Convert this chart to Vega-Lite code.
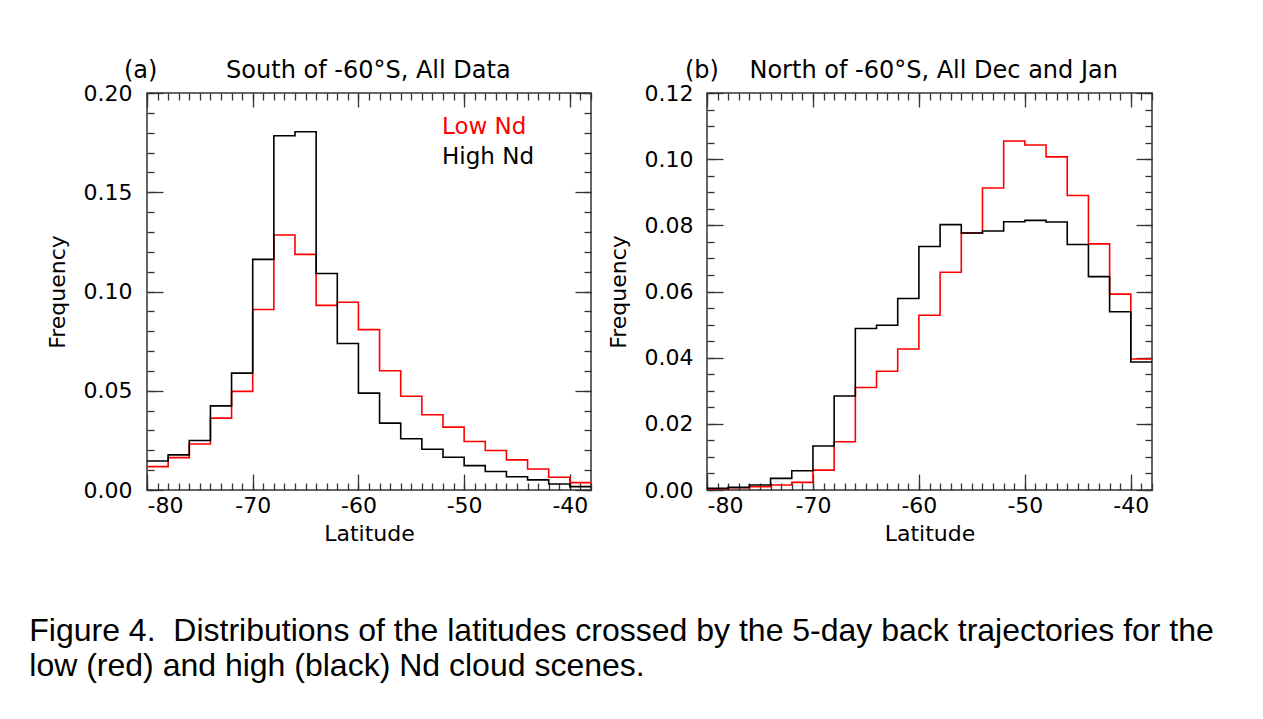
{
  "$schema": "https://vega.github.io/schema/vega-lite/v6.json",
  "background": "white",
  "padding": {"left": 29, "top": 58, "right": 5, "bottom": 5},
  "config": {
    "view": {"stroke": "#333333", "strokeWidth": 1.5},
    "axis": {"grid": false, "domain": false, "labelFont": "DejaVu Sans", "labelFontSize": 22, "labelColor": "#000000", "titleFont": "DejaVu Sans", "titleFontSize": 22, "titleFontWeight": "normal", "titleColor": "#000000", "tickColor": "#333333", "tickWidth": 1.3}
  },
  "title": {
    "text": ["Figure 4.\u00a0 Distributions of the latitudes crossed by the 5-day back trajectories for the", "low (red) and high (black) Nd cloud scenes."],
    "orient": "bottom", "anchor": "start", "dx": -16, "offset": 96, "baseline": "alphabetic",
    "font": "Liberation Sans", "fontSize": 32, "fontWeight": "normal", "color": "#000000", "lineHeight": 35
  },
  "spacing": 11,
  "resolve": {"scale": {"color": "independent"}, "legend": {"color": "independent"}},
  "datasets": {
    "a": [
      {"series": "Low Nd", "lat": -80, "freq": 0.0118}, {"series": "Low Nd", "lat": -78, "freq": 0.0163}, {"series": "Low Nd", "lat": -76, "freq": 0.0232}, {"series": "Low Nd", "lat": -74, "freq": 0.0362}, {"series": "Low Nd", "lat": -72, "freq": 0.0497}, {"series": "Low Nd", "lat": -70, "freq": 0.0909}, {"series": "Low Nd", "lat": -68, "freq": 0.1285}, {"series": "Low Nd", "lat": -66, "freq": 0.1187}, {"series": "Low Nd", "lat": -64, "freq": 0.0930}, {"series": "Low Nd", "lat": -62, "freq": 0.0946}, {"series": "Low Nd", "lat": -60, "freq": 0.0808}, {"series": "Low Nd", "lat": -58, "freq": 0.0601}, {"series": "Low Nd", "lat": -56, "freq": 0.0472}, {"series": "Low Nd", "lat": -54, "freq": 0.0379}, {"series": "Low Nd", "lat": -52, "freq": 0.0317}, {"series": "Low Nd", "lat": -50, "freq": 0.0244}, {"series": "Low Nd", "lat": -48, "freq": 0.0199}, {"series": "Low Nd", "lat": -46, "freq": 0.0152}, {"series": "Low Nd", "lat": -44, "freq": 0.0106}, {"series": "Low Nd", "lat": -42, "freq": 0.0064}, {"series": "Low Nd", "lat": -40, "freq": 0.0037}, {"series": "Low Nd", "lat": -38, "freq": 0.0037},
      {"series": "High Nd", "lat": -80, "freq": 0.0146}, {"series": "High Nd", "lat": -78, "freq": 0.0177}, {"series": "High Nd", "lat": -76, "freq": 0.0249}, {"series": "High Nd", "lat": -74, "freq": 0.0424}, {"series": "High Nd", "lat": -72, "freq": 0.0589}, {"series": "High Nd", "lat": -70, "freq": 0.1162}, {"series": "High Nd", "lat": -68, "freq": 0.1785}, {"series": "High Nd", "lat": -66, "freq": 0.1805}, {"series": "High Nd", "lat": -64, "freq": 0.1091}, {"series": "High Nd", "lat": -62, "freq": 0.0738}, {"series": "High Nd", "lat": -60, "freq": 0.0488}, {"series": "High Nd", "lat": -58, "freq": 0.0337}, {"series": "High Nd", "lat": -56, "freq": 0.0258}, {"series": "High Nd", "lat": -54, "freq": 0.0205}, {"series": "High Nd", "lat": -52, "freq": 0.0165}, {"series": "High Nd", "lat": -50, "freq": 0.0123}, {"series": "High Nd", "lat": -48, "freq": 0.0093}, {"series": "High Nd", "lat": -46, "freq": 0.0067}, {"series": "High Nd", "lat": -44, "freq": 0.0051}, {"series": "High Nd", "lat": -42, "freq": 0.0030}, {"series": "High Nd", "lat": -40, "freq": 0.0017}, {"series": "High Nd", "lat": -38, "freq": 0.0017}
    ],
    "b": [
      {"series": "Low Nd", "lat": -80, "freq": 0.0003}, {"series": "Low Nd", "lat": -78, "freq": 0.0007}, {"series": "Low Nd", "lat": -76, "freq": 0.0010}, {"series": "Low Nd", "lat": -74, "freq": 0.0015}, {"series": "Low Nd", "lat": -72, "freq": 0.0023}, {"series": "Low Nd", "lat": -70, "freq": 0.0060}, {"series": "Low Nd", "lat": -68, "freq": 0.0146}, {"series": "Low Nd", "lat": -66, "freq": 0.0310}, {"series": "Low Nd", "lat": -64, "freq": 0.0359}, {"series": "Low Nd", "lat": -62, "freq": 0.0426}, {"series": "Low Nd", "lat": -60, "freq": 0.0528}, {"series": "Low Nd", "lat": -58, "freq": 0.0658}, {"series": "Low Nd", "lat": -56, "freq": 0.0777}, {"series": "Low Nd", "lat": -54, "freq": 0.0913}, {"series": "Low Nd", "lat": -52, "freq": 0.1055}, {"series": "Low Nd", "lat": -50, "freq": 0.1043}, {"series": "Low Nd", "lat": -48, "freq": 0.1007}, {"series": "Low Nd", "lat": -46, "freq": 0.0890}, {"series": "Low Nd", "lat": -44, "freq": 0.0744}, {"series": "Low Nd", "lat": -42, "freq": 0.0592}, {"series": "Low Nd", "lat": -40, "freq": 0.0396}, {"series": "Low Nd", "lat": -38, "freq": 0.0396},
      {"series": "High Nd", "lat": -80, "freq": 0.0005}, {"series": "High Nd", "lat": -78, "freq": 0.0008}, {"series": "High Nd", "lat": -76, "freq": 0.0015}, {"series": "High Nd", "lat": -74, "freq": 0.0035}, {"series": "High Nd", "lat": -72, "freq": 0.0058}, {"series": "High Nd", "lat": -70, "freq": 0.0133}, {"series": "High Nd", "lat": -68, "freq": 0.0284}, {"series": "High Nd", "lat": -66, "freq": 0.0488}, {"series": "High Nd", "lat": -64, "freq": 0.0498}, {"series": "High Nd", "lat": -62, "freq": 0.0579}, {"series": "High Nd", "lat": -60, "freq": 0.0736}, {"series": "High Nd", "lat": -58, "freq": 0.0802}, {"series": "High Nd", "lat": -56, "freq": 0.0777}, {"series": "High Nd", "lat": -54, "freq": 0.0783}, {"series": "High Nd", "lat": -52, "freq": 0.0811}, {"series": "High Nd", "lat": -50, "freq": 0.0815}, {"series": "High Nd", "lat": -48, "freq": 0.0810}, {"series": "High Nd", "lat": -46, "freq": 0.0742}, {"series": "High Nd", "lat": -44, "freq": 0.0645}, {"series": "High Nd", "lat": -42, "freq": 0.0539}, {"series": "High Nd", "lat": -40, "freq": 0.0387}, {"series": "High Nd", "lat": -38, "freq": 0.0387}
    ]
  },
  "hconcat": [
    {
      "width": 444, "height": 397,
      "data": {"name": "a"},
      "title": {"text": "(a)\u00a0\u00a0\u00a0\u00a0\u00a0\u00a0\u00a0\u00a0\u00a0South of -60°S, All Data", "anchor": "start", "frame": "group", "dx": -23, "offset": -20, "baseline": "alphabetic", "font": "DejaVu Sans", "fontSize": 24, "fontWeight": "normal", "color": "#000000"},
      "resolve": {"axis": {"x": "independent", "y": "independent"}},
      "layer": [
        {
          "mark": {"type": "line", "interpolate": "step-after", "strokeWidth": 1.6},
          "encoding": {
            "x": {"field": "lat", "type": "quantitative", "scale": {"domain": [-80, -38], "nice": false, "zero": false}, "axis": {"orient": "bottom", "values": [-80, -70, -60, -50, -40], "ticks": false, "labelPadding": 5, "labelExpr": "toString(datum.value)", "title": "Latitude", "titlePadding": 7}},
            "y": {"field": "freq", "type": "quantitative", "scale": {"domain": [0, 0.2], "nice": false}, "axis": {"orient": "left", "values": [0, 0.05, 0.1, 0.15, 0.2], "ticks": false, "labelPadding": 15, "format": ".2f", "title": "Frequency", "titlePadding": 14}},
            "color": {"field": "series", "type": "nominal", "scale": {"domain": ["Low Nd", "High Nd"], "range": ["#ff0000", "#000000"]},
              "legend": {"title": null, "orient": "none", "legendX": 272, "legendY": 22, "symbolSize": 0, "symbolOpacity": 0, "symbolStrokeWidth": 0, "labelOffset": 0, "labelFont": "DejaVu Sans", "labelFontSize": 23, "rowPadding": 6, "padding": 0,
                "encode": {"labels": {"update": {"fill": {"signal": "datum.value === 'Low Nd' ? '#ff0000' : '#000000'"}}}}}}
          }
        },
        {
          "mark": {"type": "line", "opacity": 0},
          "encoding": {
            "x": {"field": "lat", "type": "quantitative", "scale": {"domain": [-80, -38], "nice": false, "zero": false}, "axis": {"orient": "bottom", "values": [-80, -70, -60, -50, -40], "tickSize": -16, "labels": false, "title": null}},
            "y": {"field": "freq", "type": "quantitative", "scale": {"domain": [0, 0.2], "nice": false}, "axis": {"orient": "left", "values": [0, 0.05, 0.1, 0.15, 0.2], "tickSize": -16, "labels": false, "title": null}}
          }
        },
        {
          "mark": {"type": "line", "opacity": 0},
          "encoding": {
            "x": {"field": "lat", "type": "quantitative", "scale": {"domain": [-80, -38], "nice": false, "zero": false}, "axis": {"orient": "bottom", "values": [-80, -79, -78, -77, -76, -75, -74, -73, -72, -71, -70, -69, -68, -67, -66, -65, -64, -63, -62, -61, -60, -59, -58, -57, -56, -55, -54, -53, -52, -51, -50, -49, -48, -47, -46, -45, -44, -43, -42, -41, -40, -39, -38], "tickSize": -7, "labels": false, "title": null}},
            "y": {"field": "freq", "type": "quantitative", "scale": {"domain": [0, 0.2], "nice": false}, "axis": {"orient": "left", "values": [0, 0.01, 0.02, 0.03, 0.04, 0.05, 0.06, 0.07, 0.08, 0.09, 0.1, 0.11, 0.12, 0.13, 0.14, 0.15, 0.16, 0.17, 0.18, 0.19, 0.2], "tickSize": -7, "labels": false, "title": null}}
          }
        },
        {
          "mark": {"type": "line", "opacity": 0},
          "encoding": {
            "x": {"field": "lat", "type": "quantitative", "scale": {"domain": [-80, -38], "nice": false, "zero": false}, "axis": {"orient": "top", "values": [-80, -70, -60, -50, -40], "tickSize": -14, "labels": false, "title": null}},
            "y": {"field": "freq", "type": "quantitative", "scale": {"domain": [0, 0.2], "nice": false}, "axis": {"orient": "right", "values": [0, 0.05, 0.1, 0.15, 0.2], "tickSize": -16, "labels": false, "title": null}}
          }
        },
        {
          "mark": {"type": "line", "opacity": 0},
          "encoding": {
            "x": {"field": "lat", "type": "quantitative", "scale": {"domain": [-80, -38], "nice": false, "zero": false}, "axis": {"orient": "top", "values": [-80, -79, -78, -77, -76, -75, -74, -73, -72, -71, -70, -69, -68, -67, -66, -65, -64, -63, -62, -61, -60, -59, -58, -57, -56, -55, -54, -53, -52, -51, -50, -49, -48, -47, -46, -45, -44, -43, -42, -41, -40, -39, -38], "tickSize": -7, "labels": false, "title": null}},
            "y": {"field": "freq", "type": "quantitative", "scale": {"domain": [0, 0.2], "nice": false}, "axis": {"orient": "right", "values": [0, 0.01, 0.02, 0.03, 0.04, 0.05, 0.06, 0.07, 0.08, 0.09, 0.1, 0.11, 0.12, 0.13, 0.14, 0.15, 0.16, 0.17, 0.18, 0.19, 0.2], "tickSize": -7, "labels": false, "title": null}}
          }
        }
      ]
    },
    {
      "width": 445, "height": 397,
      "data": {"name": "b"},
      "title": {"text": "(b)\u00a0\u00a0\u00a0\u00a0North of -60°S, All Dec and Jan", "anchor": "start", "frame": "group", "dx": -22, "offset": -20, "baseline": "alphabetic", "font": "DejaVu Sans", "fontSize": 24, "fontWeight": "normal", "color": "#000000"},
      "resolve": {"axis": {"x": "independent", "y": "independent"}},
      "layer": [
        {
          "mark": {"type": "line", "interpolate": "step-after", "strokeWidth": 1.6},
          "encoding": {
            "x": {"field": "lat", "type": "quantitative", "scale": {"domain": [-80, -38], "nice": false, "zero": false}, "axis": {"orient": "bottom", "values": [-80, -70, -60, -50, -40], "ticks": false, "labelPadding": 5, "labelExpr": "toString(datum.value)", "title": "Latitude", "titlePadding": 7}},
            "y": {"field": "freq", "type": "quantitative", "scale": {"domain": [0, 0.12], "nice": false}, "axis": {"orient": "left", "values": [0, 0.02, 0.04, 0.06, 0.08, 0.1, 0.12], "ticks": false, "labelPadding": 14, "format": ".2f", "title": "Frequency", "titlePadding": 14}},
            "color": {"field": "series", "type": "nominal", "scale": {"domain": ["Low Nd", "High Nd"], "range": ["#ff0000", "#000000"]}, "legend": null}
          }
        },
        {
          "mark": {"type": "line", "opacity": 0},
          "encoding": {
            "x": {"field": "lat", "type": "quantitative", "scale": {"domain": [-80, -38], "nice": false, "zero": false}, "axis": {"orient": "bottom", "values": [-80, -70, -60, -50, -40], "tickSize": -16, "labels": false, "title": null}},
            "y": {"field": "freq", "type": "quantitative", "scale": {"domain": [0, 0.12], "nice": false}, "axis": {"orient": "left", "values": [0, 0.02, 0.04, 0.06, 0.08, 0.1, 0.12], "tickSize": -16, "labels": false, "title": null}}
          }
        },
        {
          "mark": {"type": "line", "opacity": 0},
          "encoding": {
            "x": {"field": "lat", "type": "quantitative", "scale": {"domain": [-80, -38], "nice": false, "zero": false}, "axis": {"orient": "bottom", "values": [-80, -79, -78, -77, -76, -75, -74, -73, -72, -71, -70, -69, -68, -67, -66, -65, -64, -63, -62, -61, -60, -59, -58, -57, -56, -55, -54, -53, -52, -51, -50, -49, -48, -47, -46, -45, -44, -43, -42, -41, -40, -39, -38], "tickSize": -7, "labels": false, "title": null}},
            "y": {"field": "freq", "type": "quantitative", "scale": {"domain": [0, 0.12], "nice": false}, "axis": {"orient": "left", "values": [0, 0.005, 0.01, 0.015, 0.02, 0.025, 0.03, 0.035, 0.04, 0.045, 0.05, 0.055, 0.06, 0.065, 0.07, 0.075, 0.08, 0.085, 0.09, 0.095, 0.1, 0.105, 0.11, 0.115, 0.12], "tickSize": -7, "labels": false, "title": null}}
          }
        },
        {
          "mark": {"type": "line", "opacity": 0},
          "encoding": {
            "x": {"field": "lat", "type": "quantitative", "scale": {"domain": [-80, -38], "nice": false, "zero": false}, "axis": {"orient": "top", "values": [-80, -70, -60, -50, -40], "tickSize": -14, "labels": false, "title": null}},
            "y": {"field": "freq", "type": "quantitative", "scale": {"domain": [0, 0.12], "nice": false}, "axis": {"orient": "right", "values": [0, 0.02, 0.04, 0.06, 0.08, 0.1, 0.12], "tickSize": -16, "labels": false, "title": null}}
          }
        },
        {
          "mark": {"type": "line", "opacity": 0},
          "encoding": {
            "x": {"field": "lat", "type": "quantitative", "scale": {"domain": [-80, -38], "nice": false, "zero": false}, "axis": {"orient": "top", "values": [-80, -79, -78, -77, -76, -75, -74, -73, -72, -71, -70, -69, -68, -67, -66, -65, -64, -63, -62, -61, -60, -59, -58, -57, -56, -55, -54, -53, -52, -51, -50, -49, -48, -47, -46, -45, -44, -43, -42, -41, -40, -39, -38], "tickSize": -7, "labels": false, "title": null}},
            "y": {"field": "freq", "type": "quantitative", "scale": {"domain": [0, 0.12], "nice": false}, "axis": {"orient": "right", "values": [0, 0.005, 0.01, 0.015, 0.02, 0.025, 0.03, 0.035, 0.04, 0.045, 0.05, 0.055, 0.06, 0.065, 0.07, 0.075, 0.08, 0.085, 0.09, 0.095, 0.1, 0.105, 0.11, 0.115, 0.12], "tickSize": -7, "labels": false, "title": null}}
          }
        }
      ]
    }
  ]
}
